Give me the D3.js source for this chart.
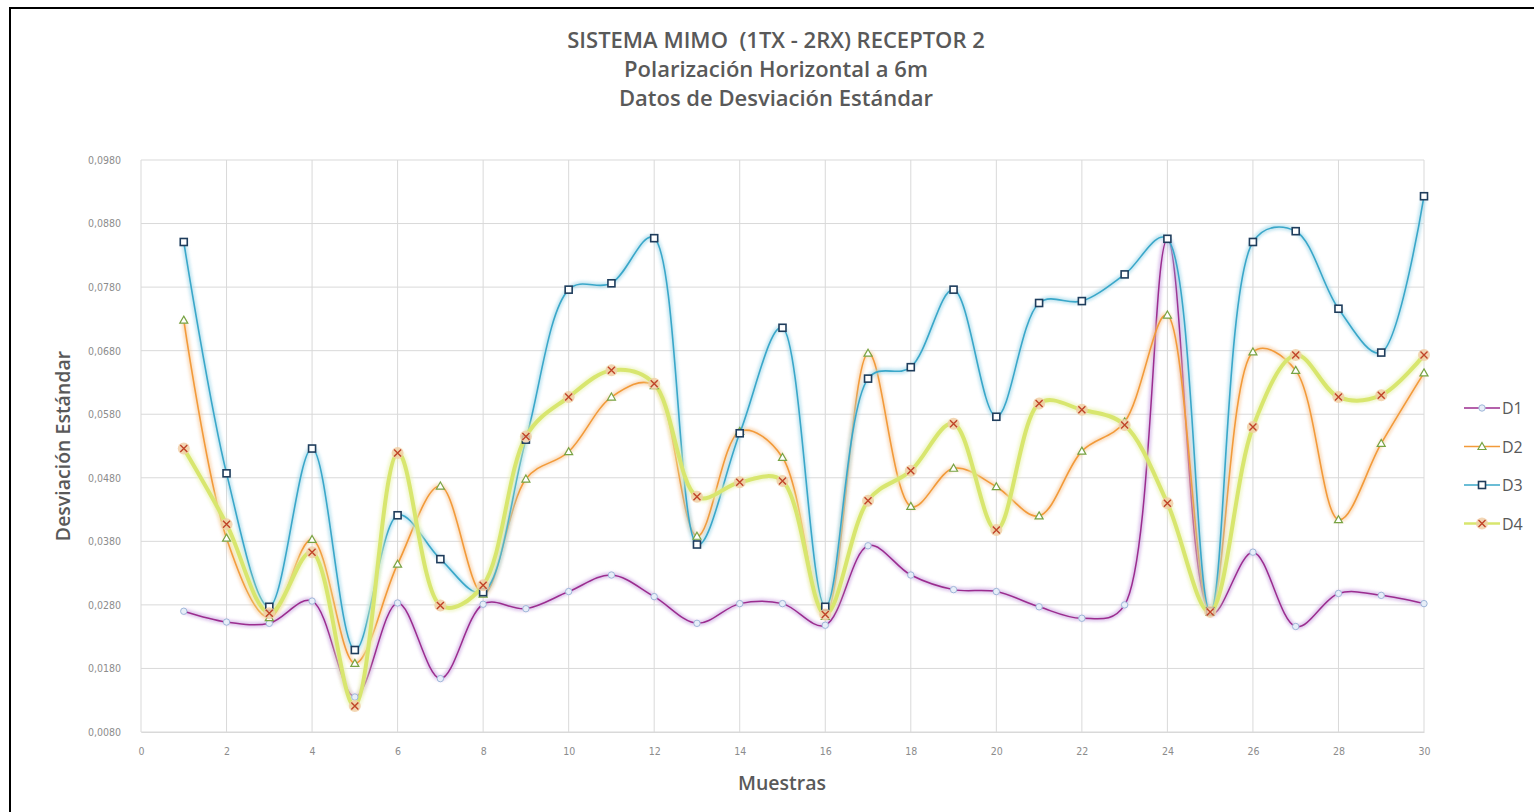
<!DOCTYPE html>
<html><head><meta charset="utf-8">
<script src="https://cdn.jsdelivr.net/npm/d3@7"></script>
<style>html,body{margin:0;padding:0;background:#fff;}svg{display:block;}</style>
</head><body>
<script>
const samples = d3.range(1, 31);
const D1 = [0.0270,0.0253,0.0251,0.0286,0.0135,0.0283,0.0164,0.0281,0.0274,0.0301,0.0327,0.0293,0.0251,0.0282,0.0282,0.0248,0.0373,0.0327,0.0304,0.0301,0.0277,0.0259,0.0280,0.0855,0.0267,0.0363,0.0246,0.0298,0.0295,0.0282];
const D2 = [0.0728,0.0385,0.0260,0.0383,0.0188,0.0344,0.0467,0.0297,0.0478,0.0521,0.0607,0.0625,0.0388,0.0553,0.0512,0.0262,0.0676,0.0435,0.0495,0.0466,0.0420,0.0522,0.0568,0.0736,0.0268,0.0678,0.0649,0.0414,0.0534,0.0645];
const D3 = [0.0851,0.0487,0.0277,0.0526,0.0209,0.0421,0.0352,0.0300,0.0540,0.0776,0.0786,0.0857,0.0375,0.0550,0.0716,0.0277,0.0636,0.0654,0.0776,0.0576,0.0755,0.0758,0.0800,0.0856,0.0270,0.0851,0.0868,0.0746,0.0677,0.0923];
const D4 = [0.0526,0.0407,0.0267,0.0363,0.0121,0.0519,0.0279,0.0311,0.0545,0.0607,0.0649,0.0628,0.0450,0.0473,0.0475,0.0265,0.0444,0.0491,0.0565,0.0398,0.0597,0.0587,0.0563,0.0440,0.0269,0.0560,0.0673,0.0607,0.0610,0.0673];
const seriesNames = ["D1","D2","D3","D4"];
const xTicks = d3.range(0, 31, 2);
const yTicks = [0.0080,0.0180,0.0280,0.0380,0.0480,0.0580,0.0680,0.0780,0.0880,0.0980];
const titleLines = ["SISTEMA MIMO  (1TX - 2RX) RECEPTOR 2","Polarización Horizontal a 6m","Datos de Desviación Estándar"];

const W = 1534, H = 812;
const svg = d3.select("body").append("svg").attr("width", W).attr("height", H);
svg.append("rect").attr("width", W).attr("height", H).attr("fill", "#fff");
svg.append("line").attr("x1",10).attr("x2",10).attr("y1",8).attr("y2",H).attr("stroke","#000").attr("stroke-width",2);
svg.append("line").attr("x1",9).attr("x2",W).attr("y1",8).attr("y2",8).attr("stroke","#000").attr("stroke-width",2);

const m = {left:141, right:1424, top:160, bottom:732};
const x = d3.scaleLinear().domain([0,30]).range([m.left, m.right]);
const y = d3.scaleLinear().domain([0.008,0.098]).range([m.bottom, m.top]);

const defs = svg.append("defs");
const f = defs.append("filter").attr("id","glow").attr("x","-20%").attr("y","-20%").attr("width","140%").attr("height","140%");
f.append("feGaussianBlur").attr("stdDeviation",1.6);

const grid = svg.append("g");
grid.selectAll(".h").data(yTicks).join("line")
  .attr("x1",m.left).attr("x2",m.right).attr("y1",d=>y(d)).attr("y2",d=>y(d))
  .attr("stroke","#d9d9d9").attr("stroke-width",1);
grid.selectAll(".v").data(xTicks).join("line")
  .attr("x1",d=>x(d)).attr("x2",d=>x(d)).attr("y1",m.top).attr("y2",m.bottom)
  .attr("stroke","#d9d9d9").attr("stroke-width",1);

const fmt = d => d3.format(".4f")(d).replace(".", ",");
const tickFont = "'Liberation Sans Narrow','DejaVu Sans Condensed',sans-serif";
const yAxis = svg.append("g").attr("transform",`translate(${m.left},0)`)
  .call(d3.axisLeft(y).tickValues(yTicks).tickFormat(fmt).tickSize(0).tickPadding(20));
yAxis.select(".domain").remove();
yAxis.selectAll("text").attr("fill","#8c8c8c").style("font-family",tickFont).style("font-size","10.5px");
const xAxis = svg.append("g").attr("transform",`translate(0,${m.bottom})`)
  .call(d3.axisBottom(x).tickValues(xTicks).tickFormat(d3.format("d")).tickSize(0).tickPadding(16));
xAxis.select(".domain").attr("stroke","#d9d9d9");
xAxis.selectAll("text").attr("fill","#8c8c8c").style("font-family",tickFont).style("font-size","10.5px");

svg.append("g").selectAll("text").data(titleLines).join("text")
  .attr("x",776).attr("y",(d,i)=>48+i*29).attr("text-anchor","middle")
  .attr("fill","#595959").style("font-family","'Open Sans',sans-serif").style("font-weight","600").style("font-size","22px")
  .style("white-space","pre")
  .text(d=>d);

svg.append("text").attr("transform","translate(70,446) rotate(-90)").attr("text-anchor","middle")
  .attr("fill","#595959").style("font-family","'Open Sans',sans-serif").style("font-weight","600").style("font-size","19.5px")
  .text("Desviación Estándar");
svg.append("text").attr("x",782).attr("y",790).attr("text-anchor","middle")
  .attr("fill","#595959").style("font-family","'Open Sans',sans-serif").style("font-weight","600").style("font-size","19.5px")
  .text("Muestras");

const series = [
  {name:"D1", data:D1, color:"#9b2d8f", width:1.5, glow:"#c9a3e0"},
  {name:"D2", data:D2, color:"#f29a3a", width:1.6, glow:"#f7c99a"},
  {name:"D3", data:D3, color:"#3aa7c9", width:1.6, glow:"#9ed6e8"},
  {name:"D4", data:D4, color:"#d8e66e", width:4, glow:"#e9f2b0"}
];
const line = d3.line().x((d,i)=>x(samples[i])).y(d=>y(d)).curve(d3.curveCatmullRom.alpha(0.4));

const order = [0,1,2,3];
const gLines = svg.append("g");
order.forEach(k => {
  const s = series[k];
  gLines.append("path").datum(s.data).attr("d",line).attr("fill","none")
    .attr("stroke",s.glow).attr("stroke-width",s.width+4).attr("opacity",0.6).attr("filter","url(#glow)");
  gLines.append("path").datum(s.data).attr("d",line).attr("fill","none")
    .attr("stroke",s.color).attr("stroke-width",s.width);
});

function marker(g, k, cx, cy) {
  if (k===0) {
    g.append("circle").attr("cx",cx).attr("cy",cy).attr("r",3.2).attr("fill","#e7eef8").attr("stroke","#9fb7d9").attr("stroke-width",1);
  } else if (k===1) {
    const r=4;
    g.append("path").attr("d",`M${cx},${cy-r}L${cx+r},${cy+r*0.75}L${cx-r},${cy+r*0.75}Z`)
      .attr("fill","#fff").attr("stroke","#77a343").attr("stroke-width",1.2);
  } else if (k===2) {
    g.append("rect").attr("x",cx-3.5).attr("y",cy-3.5).attr("width",7).attr("height",7)
      .attr("fill","#fff").attr("stroke","#1f3d5c").attr("stroke-width",1.6);
  } else {
    g.append("circle").attr("cx",cx).attr("cy",cy).attr("r",6).attr("fill","#f1cfa8").attr("opacity",0.85);
    g.append("path").attr("d",`M${cx-3.5},${cy-3.5}L${cx+3.5},${cy+3.5}M${cx+3.5},${cy-3.5}L${cx-3.5},${cy+3.5}`)
      .attr("stroke","#c0442a").attr("stroke-width",1.4);
  }
}
const gM = svg.append("g");
order.forEach(k => {
  const s = series[k];
  s.data.forEach((v,i)=> marker(gM, k, x(samples[i]), y(v)));
});

const lg = svg.append("g");
series.forEach((s,k)=>{
  const ly = 408 + k*38.5;
  lg.append("line").attr("x1",1464).attr("x2",1500).attr("y1",ly).attr("y2",ly)
    .attr("stroke",s.color).attr("stroke-width",k===3?2.5:1.5);
  marker(lg, k, 1482, ly);
  lg.append("text").attr("x",1502).attr("y",ly+6).attr("fill","#595959")
    .style("font-family","'Open Sans',sans-serif").style("font-size","16px").text(s.name);
});
</script>
</body></html>
